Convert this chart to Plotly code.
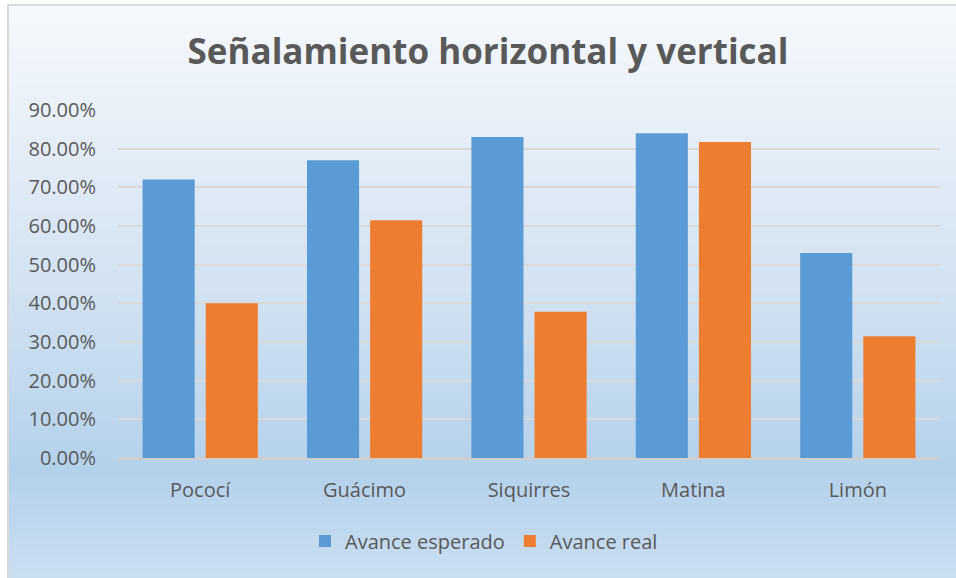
import plotly.graph_objects as go

# Data
cantones = ["Pococí", "Guácimo", "Siquirres", "Matina", "Limón"]
avance_esperado = [0.72, 0.77, 0.83, 0.84, 0.53]
avance_real = [0.40, 0.615, 0.378, 0.817, 0.315]
y_ticks = [0.0, 0.1, 0.2, 0.3, 0.4, 0.5, 0.6, 0.7, 0.8, 0.9]

FONT = "Open Sans"
TEXT = "#595959"

fig = go.Figure()
fig.add_trace(go.Bar(
    name="Avance esperado", x=cantones, y=avance_esperado,
    marker=dict(color="#5b9bd5", line=dict(width=0)),
))
fig.add_trace(go.Bar(
    name="Avance real", x=cantones, y=avance_real,
    marker=dict(color="#ed7d31", line=dict(width=0)),
))

# Chart-area background: vertical gradient built from thin bands (paper coords)
W, H = 956, 578
L, R, T, B = 118, 16, 110, 120
pw, ph = W - L - R, H - T - B
def px_x(x):
    return (x - L) / pw
def px_y(y):
    return (H - B - y) / ph

stops = [(5, (246, 249, 253)), (150, (228, 237, 247)), (300, (208, 225, 241)),
         (470, (180, 209, 235)), (578, (202, 222, 241))]
def color_at(y):
    for (y0, c0), (y1, c1) in zip(stops[:-1], stops[1:]):
        if y0 <= y <= y1:
            t = (y - y0) / (y1 - y0)
            return "rgb(%d,%d,%d)" % tuple(round(a + (b - a) * t) for a, b in zip(c0, c1))
    return "rgb(%d,%d,%d)" % stops[-1][1]

shapes = []
band = 4
y = 5
while y < 578:
    y2 = min(y + band + 1, 578)
    shapes.append(dict(type="rect", xref="paper", yref="paper",
                       x0=px_x(8), x1=px_x(956), y0=px_y(y2), y1=px_y(y),
                       fillcolor=color_at(y + band / 2), line=dict(width=0), layer="below"))
    y += band
# Frame edges
shapes.append(dict(type="line", xref="paper", yref="paper", x0=px_x(8), x1=px_x(8),
                   y0=px_y(578), y1=px_y(4), line=dict(color="#d9d9d9", width=2), layer="below"))
shapes.append(dict(type="line", xref="paper", yref="paper", x0=px_x(7), x1=px_x(956),
                   y0=px_y(5), y1=px_y(5), line=dict(color="#d9d9d9", width=2), layer="below"))

fig.update_layout(
    width=W, height=H,
    margin=dict(l=L, r=R, t=T, b=B),
    paper_bgcolor="white",
    plot_bgcolor="rgba(0,0,0,0)",
    shapes=shapes,
    barmode="group",
    bargap=0.232,
    bargroupgap=0.175,
    title=dict(text="<b>Señalamiento horizontal y vertical</b>",
               xref="container", x=488 / W, xanchor="center",
               yref="container", y=1 - 52 / H, yanchor="middle",
               font=dict(family=FONT, size=35, color=TEXT)),
    font=dict(family=FONT, color=TEXT),
    showlegend=True,
    legend=dict(orientation="h", x=px_x(484), xanchor="center", y=px_y(541), yanchor="middle",
                font=dict(family=FONT, size=20, color=TEXT), bgcolor="rgba(0,0,0,0)",
                itemwidth=30, tracegroupgap=0),
    xaxis=dict(showgrid=False, showline=False, ticks="", ticklabelstandoff=18,
               tickfont=dict(family=FONT, size=20, color=TEXT)),
    yaxis=dict(range=[0, 0.9], tickvals=y_ticks, tickformat=".2%",
               showgrid=True, gridcolor="#d9d9d9", gridwidth=1.5,
               zeroline=True, zerolinecolor="#cfcfcf", zerolinewidth=2.5,
               showline=False, ticks="", ticklabelstandoff=21,
               tickfont=dict(family=FONT, size=20, color=TEXT)),
)

fig.write_html("out.html")
